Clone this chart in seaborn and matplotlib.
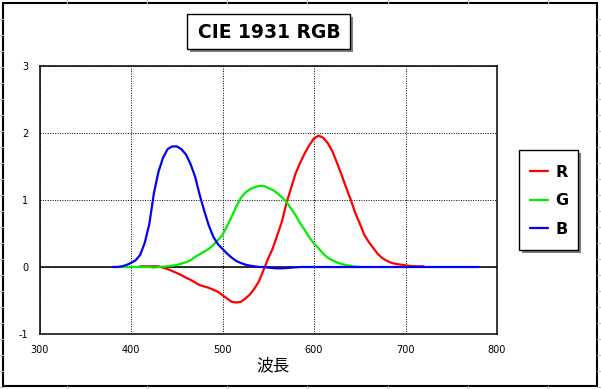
import numpy as np
import pandas as pd
import matplotlib
matplotlib.use("Agg")
import matplotlib.pyplot as plt
from matplotlib.patches import Rectangle
from matplotlib.lines import Line2D
import seaborn as sns

# values (5 nm steps)
wl_r = list(range(410, 725, 5))
val_r = [0.01, 0.01, 0.01, 0.01, 0.01, -0.01, -0.03, -0.06, -0.09, -0.12,
         -0.16, -0.19, -0.23, -0.27, -0.29, -0.31, -0.34, -0.37, -0.42, -0.47,
         -0.52, -0.53, -0.52, -0.47, -0.41, -0.32, -0.21, -0.04, 0.13, 0.28,
         0.48, 0.68, 0.96, 1.18, 1.40, 1.56, 1.70, 1.82, 1.92, 1.96,
         1.93, 1.85, 1.73, 1.56, 1.38, 1.19, 1.01, 0.81, 0.65, 0.48,
         0.37, 0.28, 0.19, 0.13, 0.09, 0.06, 0.045, 0.035, 0.025, 0.015,
         0.012, 0.01, 0.01]

wl_g = list(range(380, 655, 5))
val_g = [0.0, 0.0, 0.0, 0.0, 0.0, 0.0, 0.0, 0.0, 0.0, -0.01,
         0.0, 0.005, 0.01, 0.02, 0.03, 0.05, 0.07, 0.10, 0.15, 0.19,
         0.23, 0.27, 0.33, 0.40, 0.48, 0.61, 0.75, 0.90, 1.03, 1.11,
         1.16, 1.19, 1.21, 1.21, 1.18, 1.15, 1.10, 1.04, 0.97, 0.87,
         0.77, 0.65, 0.55, 0.44, 0.35, 0.28, 0.20, 0.14, 0.10, 0.07,
         0.045, 0.03, 0.015, 0.005, 0.0]

wl_b = list(range(380, 785, 5))
val_b = [0.0, 0.0, 0.01, 0.03, 0.06, 0.10, 0.18, 0.36, 0.64, 1.10,
         1.42, 1.63, 1.76, 1.80, 1.80, 1.76, 1.68, 1.54, 1.35, 1.08,
         0.84, 0.62, 0.45, 0.34, 0.27, 0.20, 0.14, 0.09, 0.06, 0.035,
         0.02, 0.01, 0.0, 0.0, -0.01, -0.015, -0.02, -0.02, -0.015, -0.01,
         -0.005] + [0.0] * 40

series_names = ["R", "G", "B"]
series_colors = ["#ff0000", "#00ee00", "#0000ff"]
x_ticks = [300, 400, 500, 600, 700, 800]
y_ticks = [-1, 0, 1, 2, 3]

df = pd.concat([
    pd.DataFrame({"wl": wl_r, "val": val_r, "ch": "R"}),
    pd.DataFrame({"wl": wl_g, "val": val_g, "ch": "G"}),
    pd.DataFrame({"wl": wl_b, "val": val_b, "ch": "B"}),
], ignore_index=True)

sns.set_style("white")
plt.rcParams["font.family"] = ["DejaVu Sans"]
plt.rcParams["axes.unicode_minus"] = False
plt.rcParams["text.color"] = "black"

W, H = 601, 389
fig = plt.figure(figsize=(W / 100, H / 100), dpi=100)
ax = fig.add_axes([39.5 / W, 1 - 334 / H, (497 - 39.5) / W, (334 - 66) / H])

sns.lineplot(data=df, x="wl", y="val", hue="ch", hue_order=series_names,
             palette=dict(zip(series_names, series_colors)), linewidth=1.6,
             sort=False, estimator=None, legend=False, ax=ax, zorder=3)

ax.set_xlim(300, 800)
ax.set_ylim(-1, 3)
ax.set_xticks(x_ticks)
ax.set_yticks(y_ticks)
ax.tick_params(length=0, labelsize=7, colors="black")
ax.tick_params(axis="x", pad=8)
ax.tick_params(axis="y", pad=8)
ax.grid(True, color="black", linestyle=(0, (1, 1.5)), linewidth=0.7)
ax.axhline(0, color="black", linewidth=1.1, zorder=2)
for s in ax.spines.values():
    s.set_color("black")
    s.set_linewidth(1.1)
ax.set_xlabel("波長", family=["Noto Sans CJK JP", "DejaVu Sans"], fontsize=12,
              color="black")
ax.xaxis.set_label_coords((273 - 39.5) / (497 - 39.5), -(366 - 334) / (334 - 66))
ax.xaxis.label.set_va("center")
ax.set_ylabel("")


def fig_box(x0, y0, x1, y1, shadow=True):
    # pixel box (top-left origin) with grey drop shadow
    if shadow:
        fig.patches.append(Rectangle((x0 + 3, H - y1 - 3), x1 - x0, y1 - y0,
                                     transform=None, facecolor="#808080",
                                     edgecolor="none", zorder=1))
    fig.patches.append(Rectangle((x0, H - y1), x1 - x0, y1 - y0, transform=None,
                                 facecolor="white", edgecolor="black",
                                 linewidth=1.0, zorder=2))


# spreadsheet cell lines peeking out around the chart
for gx in [67, 147, 227, 307, 388, 468, 548]:
    fig.lines.append(Line2D([gx, gx], [H - 3, H], transform=None, color="#c0c0c0", lw=0.8))
    fig.lines.append(Line2D([gx, gx], [0, 3], transform=None, color="#c0c0c0", lw=0.8))
for gy in range(19, 389, 16):
    fig.lines.append(Line2D([0, 3], [H - gy, H - gy], transform=None, color="#c0c0c0", lw=0.8))
    fig.lines.append(Line2D([597, 601], [H - gy, H - gy], transform=None, color="#c0c0c0", lw=0.8))

# outer chart frame
fig.patches.append(Rectangle((3, H - 386), 594, 383, transform=None,
                             facecolor="none", edgecolor="black", linewidth=1.5))

# title
fig_box(187, 14, 350, 49)
fig.text(269 / W, 1 - 32 / H, "CIE 1931 RGB", ha="center", va="center",
         fontsize=13.5, fontweight="bold", family="DejaVu Sans", color="black",
         zorder=3)

# legend
fig_box(519, 150, 578, 250)
handles = [Line2D([], [], color=c, linewidth=1.6) for c in series_colors]
fig.legend(handles, series_names, loc="center", bbox_to_anchor=(549 / W, 1 - 201 / H),
           frameon=False, prop={"family": "DejaVu Sans", "weight": "bold", "size": 11.5},
           labelcolor="black", labelspacing=0.85, handlelength=1.15, handletextpad=0.45)

fig.savefig("out.png", dpi=100)
